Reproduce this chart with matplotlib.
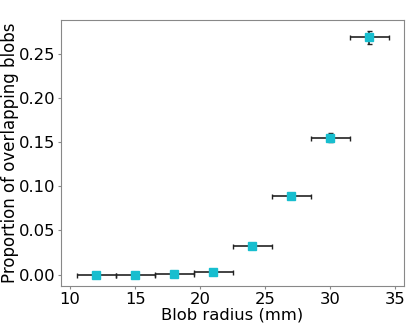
import matplotlib
matplotlib.use("Agg")
import matplotlib.pyplot as plt

radius = [12, 15, 18, 21, 24, 27, 30, 33]
radius_err = [1.5, 1.5, 1.5, 1.5, 1.5, 1.5, 1.5, 1.5]
prop = [0.0, 0.0, 0.0005, 0.003, 0.032, 0.0885, 0.155, 0.2685]
prop_err = [0.0002, 0.0003, 0.0006, 0.0012, 0.002, 0.0035, 0.0055, 0.007]

fig = plt.figure(figsize=(4.07, 3.26), dpi=100)
ax = fig.add_axes([0.15, 0.123, 0.843, 0.816])
ax.errorbar(radius, prop, xerr=radius_err, yerr=prop_err, fmt='s', color='#17becf',
            markersize=5.5, ecolor='#222222', elinewidth=1.2, capsize=1.8)
ax.set_ylim(-0.0129, 0.2883)
ax.set_xticks([10, 15, 20, 25, 30, 35])
ax.set_xlabel("Blob radius (mm)", fontsize=11.8, labelpad=0.5)
ax.set_ylabel("Proportion of overlapping blobs", fontsize=12, labelpad=0)
ax.tick_params(labelsize=11.8, length=2.2, pad=2, color='#888888')
for s in ax.spines.values():
    s.set_color('#888888')
fig.savefig("out.png", dpi=100)
